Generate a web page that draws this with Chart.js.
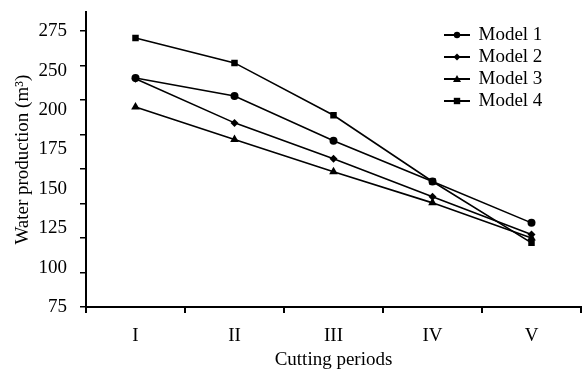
<!DOCTYPE html>
<html>
<head>
<meta charset="utf-8">
<script src="https://cdn.jsdelivr.net/npm/chart.js@4/dist/chart.umd.min.js"></script>
<style>
    body { margin: 0; background: #fff; }
    #wrap { width: 586px; height: 372px; position: relative; }
</style>
</head>
<body>
<div id="wrap"><canvas id="line_chart"></canvas></div>
<script>
// data
const periods = ['I', 'II', 'III', 'IV', 'V'];
const model1 = [241, 228, 195.5, 166, 136];
const model2 = [240.5, 208.5, 182.5, 155, 127.5];
const model3 = [220, 196.5, 173, 150.5, 125];
const model4 = [270, 252, 214, 166, 121.5];
// the printed y labels (225 is missing in the original figure)
const yTickLabels = ['75', '100', '125', '150', '175', '200', '250', '275'];

const serif = "'Liberation Serif', 'Times New Roman', serif";
const fontSize = 19;
Chart.defaults.font.family = serif;
Chart.defaults.font.size = fontSize;
Chart.defaults.color = '#000';

// little "line + marker" icon for the legend
function legendIcon(style) {
    const c = document.createElement('canvas');
    c.width = 26;
    c.height = 10;
    const ctx = c.getContext('2d');
    ctx.fillStyle = '#000';
    ctx.strokeStyle = '#000';
    ctx.lineWidth = 2;
    ctx.beginPath();
    ctx.moveTo(0, 5);
    ctx.lineTo(26, 5);
    ctx.stroke();
    ctx.beginPath();
    if (style === 'circle') {
        ctx.arc(13, 5, 3.2, 0, Math.PI * 2);
    } else if (style === 'rectRot') {
        ctx.moveTo(13, 1.5); ctx.lineTo(16.5, 5); ctx.lineTo(13, 8.5); ctx.lineTo(9.5, 5);
    } else if (style === 'triangle') {
        ctx.moveTo(13, 1); ctx.lineTo(17, 8); ctx.lineTo(9, 8);
    } else {
        ctx.rect(9.8, 1.8, 6.4, 6.4);
    }
    ctx.closePath();
    ctx.fill();
    return c;
}

function serie(label, data, style, r) {
    return {
        label: label,
        data: data,
        yAxisID: 'y',
        borderColor: '#000',
        backgroundColor: '#000',
        borderWidth: 1.6,
        pointStyle: style,
        pointRadius: r,
        pointBorderWidth: 0,
        tension: 0
    };
}

// move the chartArea legend to the top right corner
const legendPlace = {
    id: 'legendPlace',
    afterLayout(chart) {
        const lg = chart.legend;
        if (!lg) return;
        const w = lg.width, h = lg.height;
        lg.left = 442; lg.right = 442 + w;
        lg.top = 22.5; lg.bottom = 22.5 + h;
    }
};

new Chart(document.getElementById('line_chart').getContext('2d'), {
    type: 'line',
    data: {
        labels: periods,
        datasets: [
            serie('Model 1', model1, 'circle', 4),
            serie('Model 2', model2, 'rectRot', 4),
            serie('Model 3', model3, 'triangle', 5),
            serie('Model 4', model4, 'rect', 4.6)
        ]
    },
    options: {
        responsive: true,
        maintainAspectRatio: false,
        animation: false,
        layout: { padding: { top: 8, right: 4, left: 0, bottom: 0 } },
        plugins: {
            tooltip: { enabled: false },
            legend: {
                position: 'chartArea',
                align: 'start',
                labels: {
                    usePointStyle: true,
                    pointStyleWidth: 24,
                    boxHeight: 10,
                    padding: 3,
                    color: '#000',
                    font: { family: serif, size: fontSize },
                    generateLabels(chart) {
                        return chart.data.datasets.map((ds, i) => ({
                            text: ds.label,
                            pointStyle: legendIcon(ds.pointStyle),
                            fillStyle: '#000',
                            strokeStyle: '#000',
                            lineWidth: 0,
                            hidden: false,
                            datasetIndex: i
                        }));
                    }
                }
            }
        },
        scales: {
            x: {
                offset: true,
                grid: { display: true, drawOnChartArea: false, offset: true, tickLength: 6, color: '#000', lineWidth: 2 },
                border: { color: '#000', width: 2 },
                ticks: { color: '#000', padding: 12, maxRotation: 0, font: { family: serif, size: fontSize } },
                title: { display: true, text: 'Cutting periods', color: '#000', font: { family: serif, size: fontSize }, padding: { top: 0, bottom: 0.5 } },
                afterFit(s) { s.height = 65; }
            },
            y: {
                position: 'left',
                weight: 0,
                min: 75,
                max: 288.6,
                ticks: { stepSize: 25, includeBounds: false, display: false },
                grid: { drawOnChartArea: false, tickLength: 6, color: '#000', lineWidth: 1.5 },
                border: { color: '#000', width: 2 },
                afterFit(s) { s.width = 10; }
            },
            yl: {
                type: 'linear',
                position: 'left',
                weight: 1,
                min: 0,
                max: 7.475,
                ticks: {
                    stepSize: 1,
                    includeBounds: false,
                    padding: 1,
                    color: '#000',
                    font: { family: serif, size: fontSize },
                    callback: v => yTickLabels[v]
                },
                grid: { display: false },
                border: { display: false },
                title: { display: true, text: 'Water production (m³)', color: '#000', font: { family: serif, size: fontSize }, padding: { top: 11.5, bottom: 0 } },
                afterFit(s) { s.width = 76; }
            }
        }
    },
    plugins: [legendPlace]
});
</script>
</body>
</html>
